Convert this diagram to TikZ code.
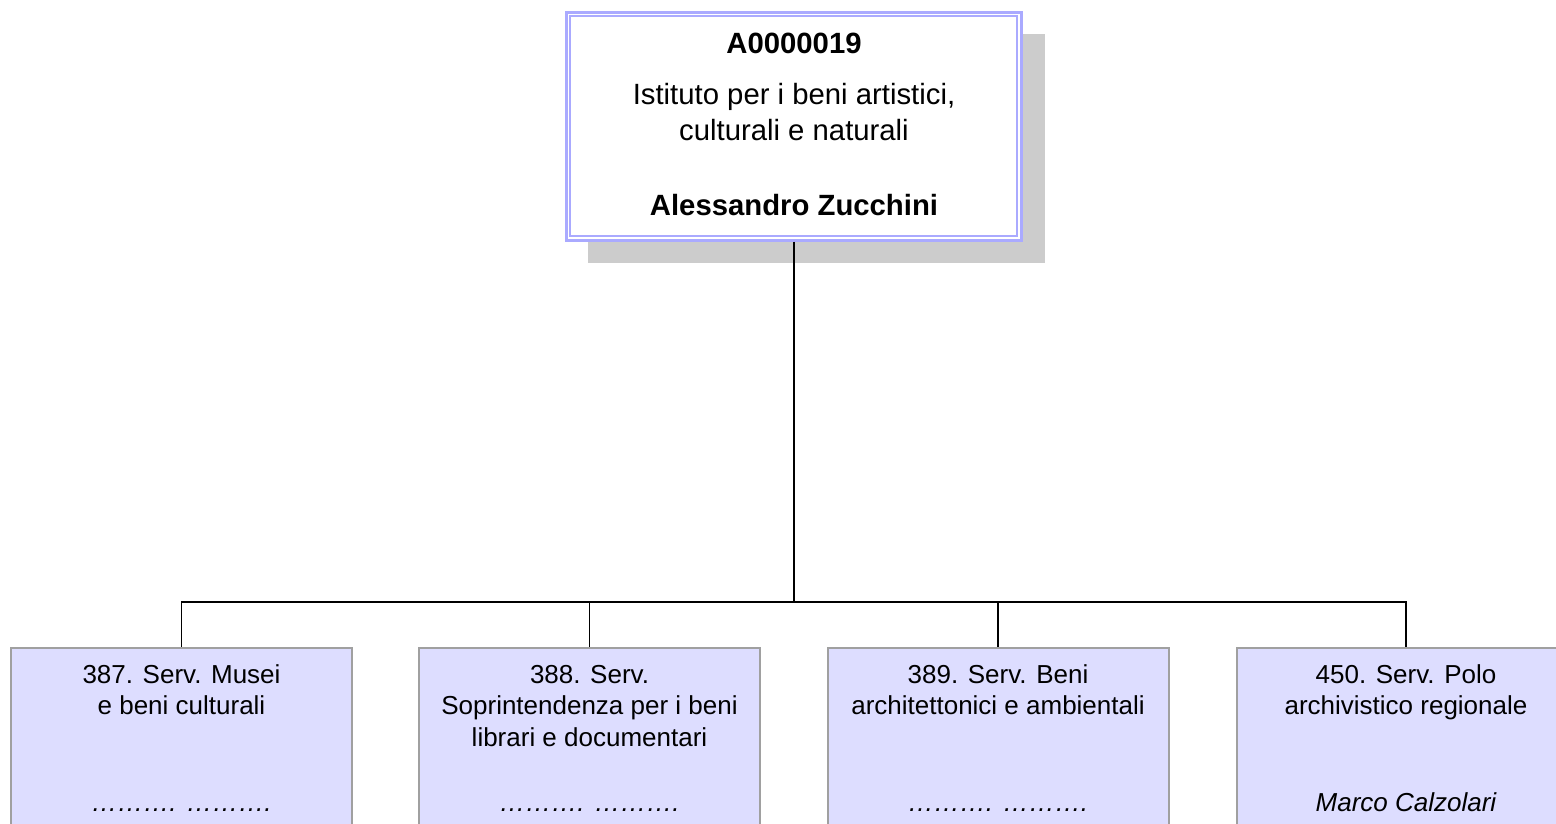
\documentclass[tikz,border=0pt]{standalone}
\usepackage{fontspec}
\setmainfont{Liberation Sans}
\definecolor{framecol}{RGB}{170,170,255}
\definecolor{shadowcol}{RGB}{204,204,204}
\definecolor{boxfill}{RGB}{221,221,255}
\definecolor{boxline}{RGB}{160,160,160}
\tikzset{
  topbox/.style={draw=framecol, line width=3pt, fill=white, minimum width=455pt, minimum height=227.5pt, inner sep=0pt},
  unitbox/.style={draw=boxline, line width=2pt, fill=boxfill, minimum width=341pt, minimum height=200pt, inner sep=0pt, anchor=north},
  toptxt/.style={font=\fontsize{29.3}{35}\selectfont, anchor=base, inner sep=0pt},
  toptxtb/.style={toptxt, font=\fontsize{29.3}{35}\selectfont\bfseries},
  unittxt/.style={font=\fontsize{26}{31}\selectfont, anchor=base, inner sep=0pt},
  unitname/.style={unittxt, font=\fontsize{26}{31}\selectfont\itshape},
  conn/.style={draw=black, line width=1.6pt}
}
\begin{document}
\begin{tikzpicture}[x=1pt,y=-1pt]
\useasboundingbox (0,0) rectangle (1556,824);
% shadow
\fill[shadowcol] (588,34) rectangle (1045,263);
% top box
\node[topbox] (top) at (794,126.25) {};
\draw[framecol, line width=2pt] ([shift={(5,5)}]top.north west) rectangle ([shift={(-6.5,-6)}]top.south east);
\node[toptxtb] (tcode) at (794,54) {A0000019};
\node[toptxt] (tname1) at (794,105) {Istituto per i beni artistici,};
\node[toptxt] (tname2) at (794,140.5) {culturali e naturali};
\node[toptxtb] (tboss) at (794,215.5) {Alessandro Zucchini};
% bottom boxes
\node[unitbox] (b1) at (181.5,647) {};
\node[unitbox] (b2) at (589.5,647) {};
\node[unitbox] (b3) at (998,647) {};
\node[unitbox, minimum width=400pt, anchor=north west] (b4) at (1235.5,647) {};
\coordinate (b4top) at (1406,647);
% texts box 1
\node[unittxt] (b1l1) at (181.5,683) {387. Serv. Musei};
\node[unittxt] (b1l2) at (181.5,714) {e beni culturali};
\node[unitname] (b1n) at (181.5,811) {………. ……….};
% texts box 2
\node[unittxt] (b2l1) at (589.5,683) {388. Serv.};
\node[unittxt] (b2l2) at (589.5,714.5) {Soprintendenza per i beni};
\node[unittxt] (b2l3) at (589.5,746) {librari e documentari};
\node[unitname] (b2n) at (589.5,811) {………. ……….};
% texts box 3
\node[unittxt] (b3l1) at (998,683) {389. Serv. Beni};
\node[unittxt] (b3l2) at (998,714) {architettonici e ambientali};
\node[unitname] (b3n) at (998,811) {………. ……….};
% texts box 4
\node[unittxt] (b4l1) at (1406,683) {450. Serv. Polo};
\node[unittxt] (b4l2) at (1406,714) {archivistico regionale};
\node[unitname] (b4n) at (1406,811) {Marco Calzolari};
% connectors
\coordinate (bus) at (794,602);
\draw[conn] (top.south) -- (bus);
\draw[conn] (bus) -| (b1.north);
\draw[conn] (bus) -| (b2.north);
\draw[conn] (bus) -| (b3.north);
\draw[conn] (bus) -| (b4top);
\end{tikzpicture}
\end{document}
